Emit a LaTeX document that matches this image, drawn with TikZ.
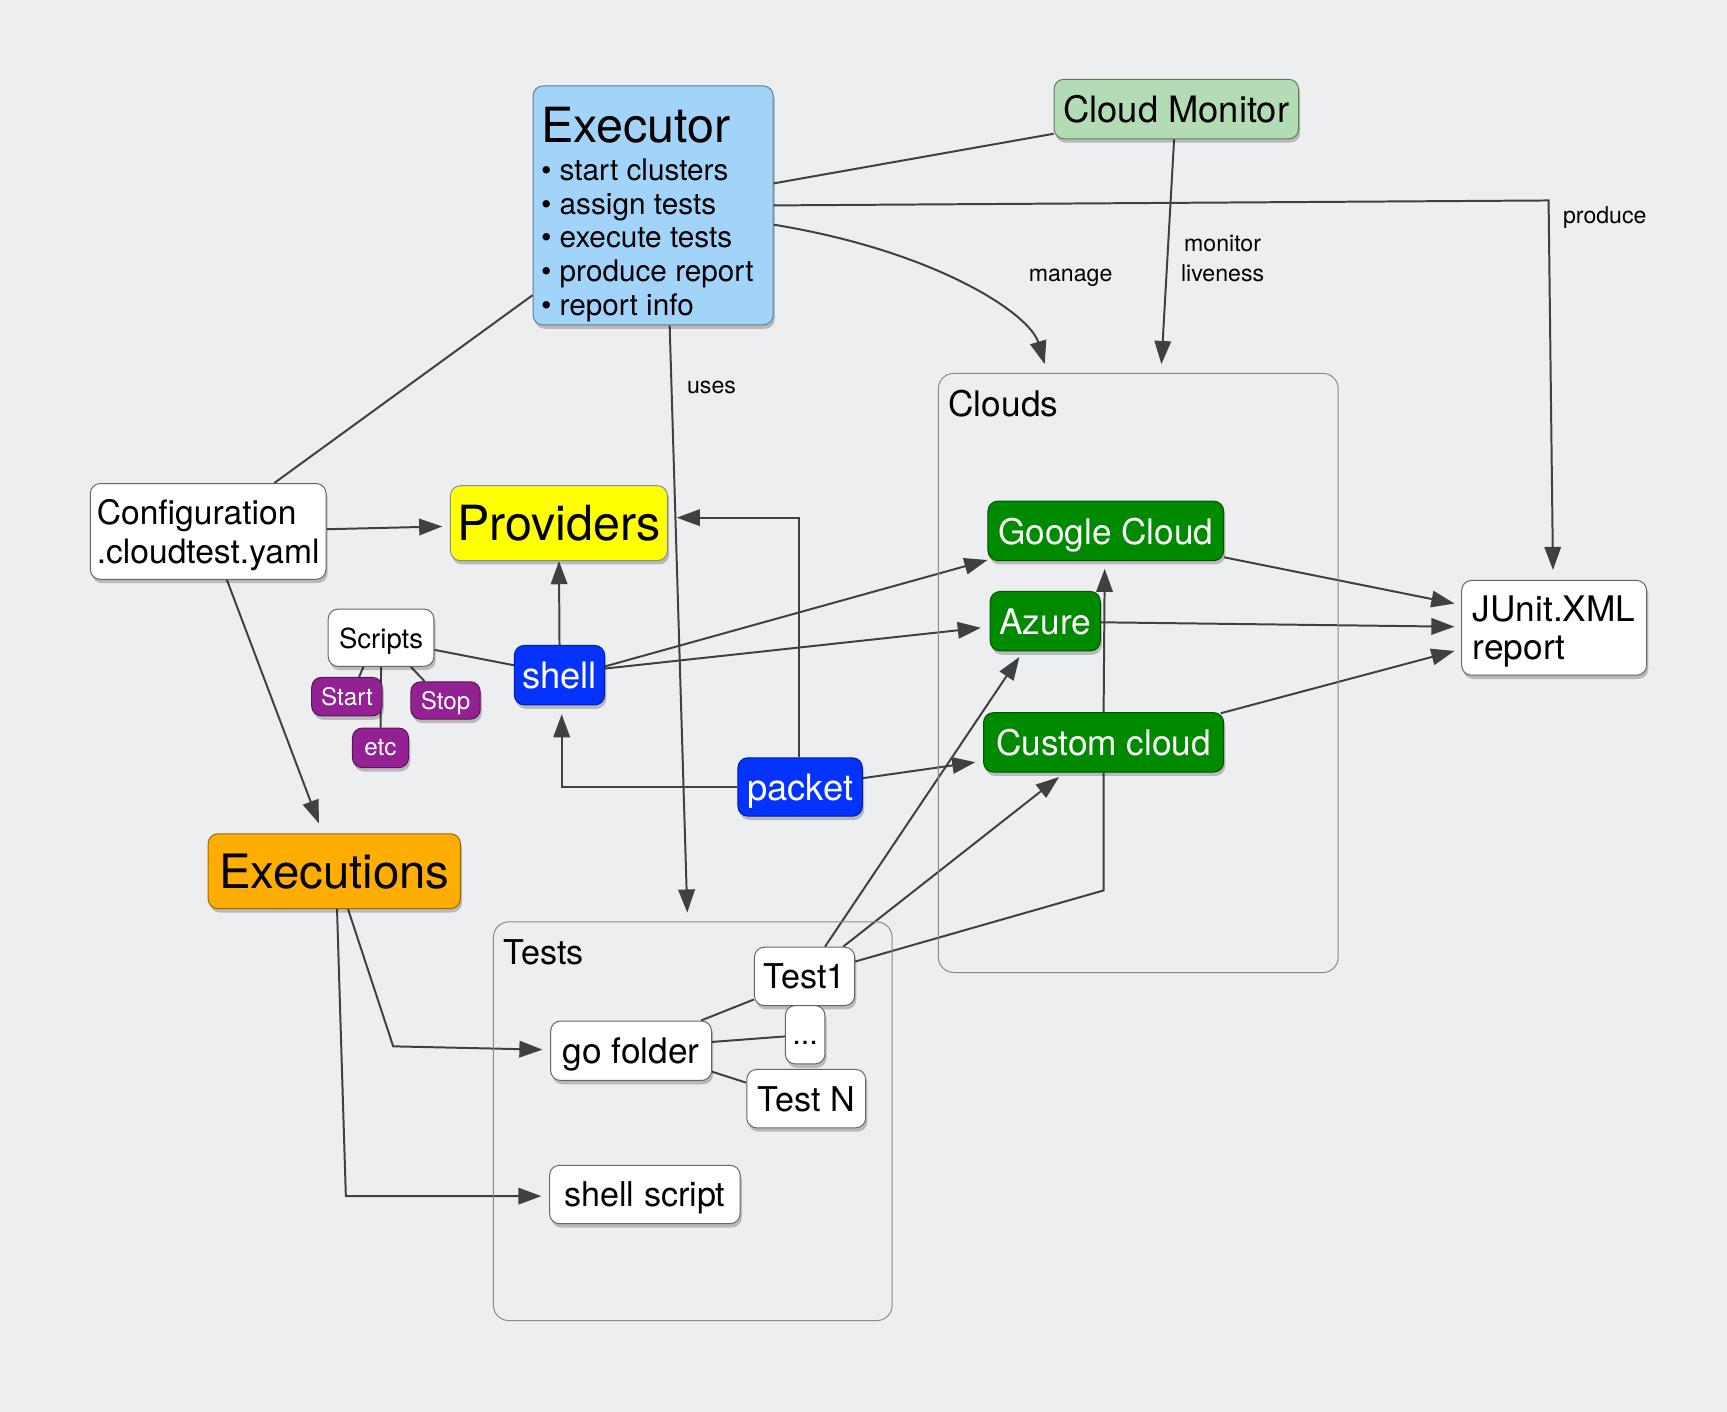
\documentclass[tikz,border=0pt]{standalone}
\usepackage{fontspec}
\setmainfont{TeX Gyre Heros}
\usetikzlibrary{calc,positioning,arrows.meta,shadows,backgrounds}

\definecolor{bgcol}{HTML}{EDEEF0}
\definecolor{linecol}{HTML}{404040}
\definecolor{execblue}{HTML}{A2D4FA}
\definecolor{monitorgreen}{HTML}{B4DCB4}
\definecolor{cloudgreen}{HTML}{008A00}
\definecolor{provyellow}{HTML}{FFFF00}
\definecolor{runorange}{HTML}{FFAD00}
\definecolor{provblue}{HTML}{0433FF}
\definecolor{scriptpurple}{HTML}{942193}
\definecolor{framegray}{HTML}{8A8A8A}

\newcommand{\fsz}[2]{\fontsize{#1}{#2}\selectfont}

\begin{document}
\begin{tikzpicture}[x=1pt,y=-1pt,
  every node/.style={font=\fsz{32}{36}},
  wh/.style 2 args={minimum width=#1pt,minimum height=#2pt},
  main node/.style={rectangle,rounded corners=9pt,inner sep=0pt,line width=0.9pt,align=center,text depth=0pt,
    drop shadow={shadow xshift=1.5pt,shadow yshift=-3.5pt,opacity=0.22,fill=black}},
  white node/.style={main node,fill=white,draw=black!60},
  green node/.style={main node,fill=cloudgreen,draw=cloudgreen!60!black,text=white},
  blue node/.style={main node,fill=provblue,draw=provblue!60!black,text=white},
  purple node/.style={main node,fill=scriptpurple,draw=scriptpurple!60!black,text=white,font=\fsz{22}{22}},
  group node/.style={rectangle,rounded corners=14pt,draw=framegray,line width=0.9pt},
  lbl/.style={font=\fsz{21}{27},text=black},
  link/.style={color=linecol,line width=1.8pt},
  link arrow/.style={link,-{Triangle[length=21pt,width=15pt]}}]
					\useasboundingbox (0,0) rectangle (1568,1282);
					% executor
					\node[main node,fill=execblue,draw=execblue!60!black,wh={218}{217}] (exec) at (593,186.5) {};
					\node[anchor=base west,inner sep=0pt,font=\fsz{44}{44}] (exectitle) at (491,129) {Executor};
					\foreach \task [count=\i from 0] in {start clusters,assign tests,execute tests,produce report,report info}
						\node[anchor=base west,inner sep=0pt,font=\fsz{27}{27}] (task\i) at (491,163.5+30.8*\i) {• \task};
					\node[main node,fill=monitorgreen,draw=monitorgreen!55!black,wh={222}{54},font=\fsz{33}{33}] (monitor) at (1068,99) {Cloud Monitor};
					% clouds
					\node[group node,wh={363}{544}] (clouds) at (1033.5,611) {};
					\node[anchor=base west,inner sep=0pt] (cloudslbl) at (861,378) {Clouds};
					\node[green node,wh={214}{54}] (gcloud) at (1004,482) {Google Cloud};
					\node[green node,wh={100}{54}] (azure) at (949,564) {Azure};
					\node[green node,wh={218}{54}] (custom) at (1002,674) {Custom cloud};
					\node[white node,wh={168}{86},align=left,font=\fsz{32}{35}] (junit) at (1411,570) {JUnit.XML\\report};
					% configuration and providers
					\node[white node,wh={214}{87},align=left,font=\fsz{30.5}{35}] (config) at (189,482.5) {Configuration\\.cloudtest.yaml};
					\node[main node,fill=provyellow,draw=black!45,wh={197}{68},font=\fsz{44}{44}] (providers) at (507.5,475) {Providers};
					\node[white node,wh={96}{52},font=\fsz{25}{25},text height=20pt] (scripts) at (346,579) {Scripts};
					\node[purple node,wh={64}{35}] (start) at (315,632.5) {Start};
					\node[purple node,wh={63}{34}] (stop) at (404.5,636) {Stop};
					\node[purple node,wh={51}{36}] (etc) at (345.5,679) {etc};
					\node[blue node,wh={82}{54},font=\fsz{33}{33}] (shell) at (508,613) {shell};
					\node[blue node,wh={113}{53},font=\fsz{33}{33}] (packet) at (726.5,714.5) {packet};
					\node[main node,fill=runorange,draw=runorange!60!black,wh={229}{68},font=\fsz{43}{43}] (executions) at (303.5,791) {Executions};
					% tests
					\node[group node,wh={362}{362}] (tests) at (629,1018) {};
					\node[anchor=base west,inner sep=0pt,font=\fsz{31}{31}] (testslbl) at (457,876) {Tests};
					\node[white node,wh={91}{53},font=\fsz{31}{31}] (test1) at (730.5,886.5) {Test1};
					\node[white node,wh={36}{53},font=\fsz{28}{28},text height=18pt] (dots) at (731,939.5) {...};
					\node[white node,wh={146}{54}] (gofolder) at (573,954) {go folder};
					\node[white node,wh={108}{53},font=\fsz{31}{31}] (testn) at (732,997.5) {Test N};
					\node[white node,wh={173}{53},font=\fsz{31}{31}] (shscript) at (585.5,1084.5) {shell script};
					% edge labels
					\node[lbl] (lblproduce) at (1457,198) {produce};
					\node[lbl] (lblmanage) at (972,252) {manage};
					\node[lbl,align=center] (lblmonitor) at (1110,235) {monitor\\liveness};
					\node[lbl] (lbluses) at (646,352) {uses};
					\coordinate (prodbend) at (1406,182);
					\coordinate (gobend) at (357,950);
					\coordinate (shbend) at (314,1086);
				\begin{pgfonlayer}{background}
					\fill[bgcol] (0,0) rectangle (1568,1282);
					\path[link]
						($(exec.east)+(0,-20)$) edge ($(monitor.south west)+(0,-5)$)
						($(exec.west)+(0,81.5)$) edge ($(config.north)+(60,0)$)
						($(scripts.east)+(0,11)$) edge ($(shell.west)+(0,-9)$)
						($(scripts.south)+(-16,0)$) edge ($(start.north)+(11,0)$)
						($(scripts.south)+(27,0)$) edge ($(stop.north)+(-19,0)$)
						(scripts.south) edge (etc.north)
						($(gofolder.north east)+(-10,0)$) edge ($(test1.south west)+(0,-6)$)
						($(gofolder.east)+(0,-8)$) edge ($(dots.west)+(0,1.5)$)
						($(gofolder.east)+(0,19)$) edge ($(testn.west)+(0,-14.5)$);
					\path[link arrow]
						($(monitor.south)+(-2,0)$) edge ($(clouds.north)+(21,-8)$)
						($(exec.south)+(15,0)$) edge ($(tests.north)+(-5,-8)$)
						($(config.east)+(0,-2)$) edge ($(providers.west)+(-7,3)$)
						($(config.south)+(17,0)$) edge ($(executions.north)+(-14,-9)$)
						(shell.north) edge (providers.south)
						($(shell.east)+(0,-8)$) edge ($(gcloud.south west)+(0,-1)$)
						($(shell.east)+(0,-6)$) edge ($(azure.west)+(-8,6)$)
						($(packet.east)+(0,-8)$) edge ($(custom.west)+(-7,18)$)
						($(gcloud.east)+(0,24)$) edge ($(junit.west)+(-6,-22)$)
						($(azure.east)+(0,1)$) edge ($(junit.west)+(-6,-1)$)
						($(custom.north east)+(-3,1)$) edge ($(junit.west)+(-6,21)$)
						(custom.north) edge ($(gcloud.south)+(-1,7)$)
						($(test1.north)+(18.5,0)$) edge ($(azure.south west)+(27,5)$)
						($(test1.north east)+(-11,0)$) edge ($(custom.south west)+(69,4)$);
					\draw[link arrow] ($(exec.east)+(0,17.5)$) .. controls (850,228) and (935,285) .. ($(clouds.north)+(-85,-8)$);
					\draw[link arrow] (exec.east) -- (prodbend) -- ($(junit.north)+(-1,-9)$);
					\draw[link arrow] (packet.west) -| ($(shell.south)+(2,8)$);
					\draw[link arrow] ($(packet.north)+(-1,0)$) |- ($(providers.east)+(8,-5)$);
					\draw[link] ($(test1.east)+(0,-13.5)$) -- ($(custom.south)+(0,107)$) -- (custom.south);
					\draw[link arrow] ($(executions.south)+(12.5,0)$) -- (gobend) -- ($(gofolder.west)+(-7,-1)$);
					\draw[link arrow] ($(executions.south)+(2.5,0)$) -- (shbend) -- ($(shscript.west)+(-7,1.5)$);
				\end{pgfonlayer}
\end{tikzpicture}
\end{document}
